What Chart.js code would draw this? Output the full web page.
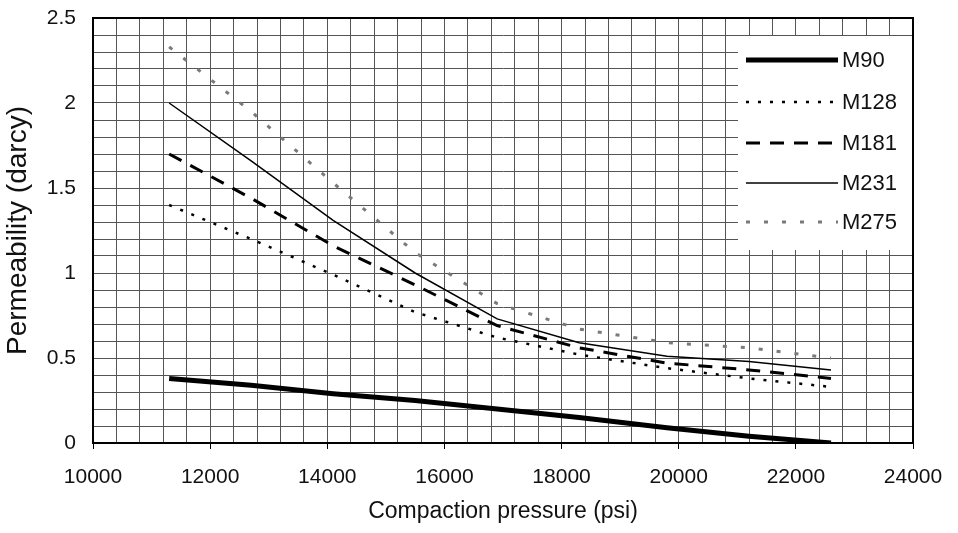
<!DOCTYPE html>
<html>
<head>
<meta charset="utf-8">
<script src="https://cdn.jsdelivr.net/npm/chart.js@4/dist/chart.umd.min.js"></script>
<style>
  html, body { margin: 0; padding: 0; background: #fff; }
  #wrap { width: 958px; height: 533px; }
</style>
</head>
<body>
<div id="wrap"><canvas id="permChart" width="958" height="533"></canvas></div>
<script>
// pressioni di compattazione (psi)
const pressure = [11300, 12700, 14100, 15500, 16900, 18300, 19800, 21200, 22600];

// permeabilita (darcy) per ogni campione
const m90  = [0.38, 0.34, 0.29, 0.25, 0.20, 0.15, 0.09, 0.04, 0.00];
const m128 = [1.40, 1.20, 0.99, 0.77, 0.62, 0.52, 0.44, 0.38, 0.33];
const m181 = [1.70, 1.44, 1.16, 0.93, 0.69, 0.56, 0.47, 0.43, 0.38];
const m231 = [2.00, 1.66, 1.31, 1.00, 0.73, 0.59, 0.51, 0.48, 0.43];
const m275 = [2.33, 1.95, 1.53, 1.12, 0.82, 0.67, 0.59, 0.56, 0.50];

const seriesNames = ["M90", "M128", "M181", "M231", "M275"];

const FONT = "'Liberation Sans', Arial, sans-serif";

function punti(valori) {
  return pressure.map((p, i) => ({ x: p, y: valori[i] }));
}

// legenda disegnata dentro l'area del grafico
const legendaInterna = {
  id: "legendaInterna",
  afterDraw(chart) {
    const c = chart.ctx;
    const area = chart.chartArea;
    c.save();
    c.fillStyle = "#fff";
    c.fillRect(738, 36, area.right - 738 - 1, 214);
    // bordo superiore e destro del riquadro
    c.strokeStyle = "#000";
    c.lineWidth = 2;
    c.beginPath();
    c.moveTo(area.left, area.top);
    c.lineTo(area.right, area.top);
    c.lineTo(area.right, area.bottom);
    c.stroke();
    const righe = [60, 102, 143, 183, 222];
    chart.data.datasets.forEach((ds, i) => {
      const y = righe[i];
      c.strokeStyle = ds.borderColor;
      c.lineWidth = ds.borderWidth;
      c.setLineDash(ds.borderDash || []);
      c.beginPath();
      c.moveTo(746, y);
      c.lineTo(838, y);
      c.stroke();
      c.setLineDash([]);
      c.fillStyle = "#111";
      c.font = "22px " + FONT;
      c.textBaseline = "middle";
      c.textAlign = "left";
      c.fillText(ds.label, 842, y + 1);
    });
    c.restore();
  },
};

const ctx = document.getElementById("permChart").getContext("2d");

new Chart(ctx, {
  type: "line",
  data: {
    datasets: [
      { label: seriesNames[0], data: punti(m90), borderColor: "#000", borderWidth: 5 },
      { label: seriesNames[1], data: punti(m128), borderColor: "#000", borderWidth: 2.5, borderDash: [3, 9] },
      { label: seriesNames[2], data: punti(m181), borderColor: "#000", borderWidth: 3, borderDash: [14, 10] },
      { label: seriesNames[3], data: punti(m231), borderColor: "#000", borderWidth: 1.5 },
      { label: seriesNames[4], data: punti(m275), borderColor: "#7a7a7a", borderWidth: 3, borderDash: [4, 14] },
    ],
  },
  options: {
    responsive: false,
    animation: false,
    elements: { point: { radius: 0 }, line: { tension: 0, fill: false } },
    layout: { padding: { top: 18, right: 45, left: 0, bottom: 0 } },
    plugins: {
      legend: { display: false },
      tooltip: { enabled: false },
    },
    scales: {
      x: {
        type: "linear",
        min: 10000,
        max: 24000,
        afterFit(scale) {
          scale.height = 90;
          scale.paddingLeft = 0;
          scale.paddingRight = 0;
        },
        ticks: {
          stepSize: 400,
          autoSkip: false,
          maxRotation: 0,
          color: "#111",
          padding: 16,
          font: { family: FONT, size: 21 },
          callback: (v) => (v % 2000 === 0 ? String(v) : ""),
        },
        grid: {
          color: "#555",
          lineWidth: 1,
          tickLength: 6,
          tickColor: (c) => (c.tick && c.tick.value % 2000 === 0 ? "#000" : "rgba(0,0,0,0)"),
        },
        border: { color: "#000", width: 2 },
        title: {
          display: true,
          text: "Compaction pressure (psi)",
          color: "#111",
          font: { family: FONT, size: 23 },
          padding: { top: 4, bottom: 8 },
        },
      },
      y: {
        type: "linear",
        min: 0,
        max: 2.5,
        afterFit(scale) {
          scale.width = 93;
          scale.paddingTop = 0;
          scale.paddingBottom = 0;
        },
        ticks: {
          stepSize: 0.1,
          autoSkip: false,
          color: "#111",
          padding: 14,
          font: { family: FONT, size: 21 },
          callback: (v) => {
            const d = Math.round(v * 10);
            return d % 5 === 0 ? String(d / 10) : "";
          },
        },
        grid: {
          color: "#555",
          lineWidth: 1,
          tickLength: 3,
          tickColor: "rgba(0,0,0,0)",
        },
        border: { color: "#000", width: 2 },
        title: {
          display: true,
          text: "Permeability (darcy)",
          color: "#111",
          font: { family: FONT, size: 28 },
          padding: { top: 1, bottom: 0 },
        },
      },
    },
  },
  plugins: [legendaInterna],
});
</script>
</body>
</html>
